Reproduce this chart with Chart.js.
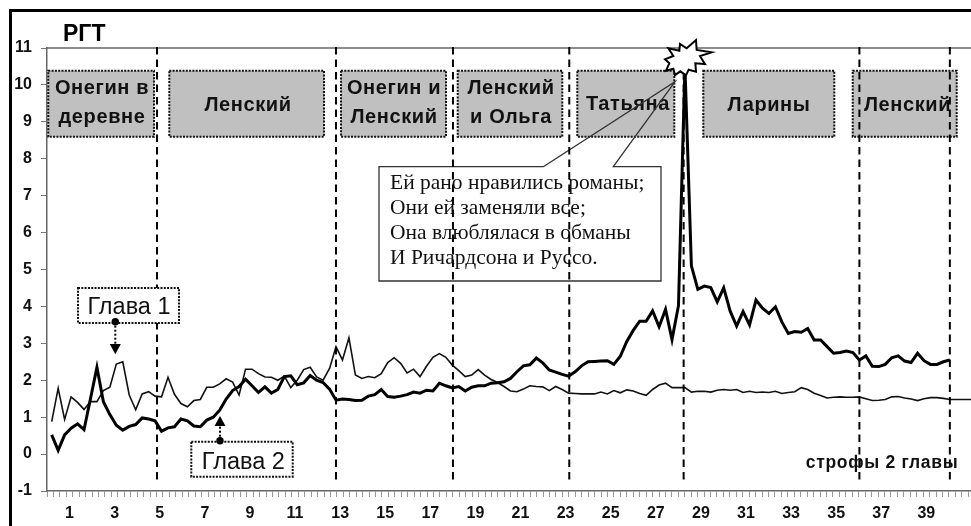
<!DOCTYPE html>
<html lang="ru">
<head>
<meta charset="utf-8">
<title>РГТ</title>
<script src="https://cdn.jsdelivr.net/npm/chart.js@4"></script>
<style>
html,body{margin:0;padding:0;background:#fff}
#wrap{position:relative;width:971px;height:526px;overflow:hidden}
canvas{display:block}
</style>
</head>
<body>
<div id="wrap"><canvas id="c" width="971" height="526"></canvas></div>
<script>
const xTickLabels = ['1','3','5','7','9','11','13','15','17','19','21','23','25','27','29','31','33','35','37','39'];
const yTickRange = [-1, 11];
const chapter1Values = [
0.88,1.78,0.94,1.55,1.40,1.21,1.42,1.42,1.72,1.81,2.44,2.50,1.60,1.20,1.63,1.69,1.57,1.55,2.08,1.62,
1.37,1.28,1.45,1.48,1.81,1.81,1.90,2.04,1.95,1.60,2.30,2.30,2.18,2.09,2.08,2.00,2.11,1.80,2.00,2.29,
2.35,2.09,2.00,2.32,2.91,2.55,3.15,2.14,2.05,2.10,2.07,2.18,2.48,2.61,2.46,2.20,2.30,2.10,2.38,2.62,
2.72,2.62,2.41,2.26,2.10,2.14,2.29,2.14,2.02,1.94,1.83,1.71,1.69,1.76,1.85,1.83,1.82,1.72,1.83,1.75,
1.65,1.64,1.63,1.63,1.63,1.68,1.63,1.72,1.66,1.74,1.71,1.64,1.59,1.75,1.87,1.92,1.80,1.80,1.80,1.68,
1.70,1.70,1.68,1.73,1.75,1.73,1.75,1.67,1.70,1.67,1.68,1.67,1.70,1.64,1.67,1.69,1.80,1.75,1.65,1.59,
1.52,1.54,1.55,1.54,1.54,1.55,1.50,1.45,1.46,1.48,1.55,1.56,1.52,1.49,1.45,1.50,1.53,1.53,1.51,1.48,
1.48,1.48,1.48,1.48];
const chapter2Values = [
0.52,0.10,0.52,0.70,0.82,0.66,1.50,2.35,1.42,1.07,0.78,0.65,0.75,0.80,0.98,0.95,0.90,0.62,0.71,0.74,
0.95,0.90,0.76,0.74,0.92,1.00,1.19,1.49,1.72,1.83,2.03,1.85,1.67,1.82,1.65,1.75,2.10,2.12,1.88,1.93,
2.13,2.00,1.94,1.76,1.46,1.49,1.48,1.45,1.46,1.57,1.61,1.75,1.56,1.54,1.57,1.61,1.68,1.65,1.73,1.71,
1.92,1.85,1.79,1.83,1.71,1.81,1.85,1.85,1.92,1.93,1.96,2.05,2.23,2.39,2.42,2.60,2.47,2.28,2.22,2.16,
2.11,2.23,2.39,2.50,2.51,2.52,2.53,2.43,2.65,3.05,3.35,3.60,3.60,3.88,3.45,3.92,3.10,4.02,10.50,5.10,
4.46,4.55,4.51,4.12,4.50,3.87,3.47,3.86,3.50,4.17,3.95,3.81,3.99,3.58,3.27,3.32,3.30,3.40,3.09,3.09,
2.91,2.73,2.75,2.79,2.75,2.55,2.66,2.38,2.37,2.43,2.61,2.66,2.52,2.48,2.73,2.53,2.43,2.43,2.50,2.55];
const sectionBreaks = [16.3, 44.0, 62.1, 80.1, 97.8, 125.0, 139.0];
const titleText = 'РГТ';
const sectionBoxes = [
  {x0:48.3, x1:154, cx:102, lines:[['Онегин в',88],['деревне',117]]},
  {x0:169.3,x1:324, cx:248, lines:[['Ленский',105]]},
  {x0:341,  x1:446, cx:394, lines:[['Онегин и',88],['Ленский',117]]},
  {x0:457.7,x1:562.3,cx:511, lines:[['Ленский',88],['и Ольга',117]]},
  {x0:577.3,x1:674.3,cx:628, lines:[['Татьяна',104]]},
  {x0:703.3,x1:834.3,cx:769, lines:[['Ларины',105]]},
  {x0:852.7,x1:956.7,cx:907.5, lines:[['Ленский',105]]}
];
const verseLines = ['Ей рано нравились романы;','Они ей заменяли все;','Она влюблялася в обманы','И Ричардсона и Руссо.'];
const starOutline = [[1115,97],[1080,108],[1095,132],[1066,130],[1068,155],[1046,149],[1038,166],[1021,154],[1005,165],[1000,146],[978,152],[988,130],[975,118],[1000,108],[985,85],[1018,92],[1020,72],[1040,85],[1068,60],[1070,90]];

const PLOT = {left:47, right:971, top:48, bottom:491};
const STEP = (PLOT.right-PLOT.left)/143;
const X_MIN = -4.7/STEP;
const X_MAX = X_MIN + 143;
const TICK_SPACING = 0.997;

const sketch = {
  id:'sketch',
  beforeDraw(chart){
    const c = chart.ctx;
    c.save();
    c.fillStyle='#fff'; c.fillRect(0,0,971,526);
    c.fillStyle='#000';
    c.fillRect(9,9,962,3);
    c.fillRect(9,9,3,517);
    c.fillStyle='#000';
    c.font='bold 23px "Liberation Sans"';
    c.textAlign='left'; c.textBaseline='alphabetic';
    c.fillText(titleText,63,41);
    c.strokeStyle='#666'; c.lineWidth=1.5;
    c.beginPath(); c.moveTo(PLOT.left,48); c.lineTo(971,48); c.stroke();
    c.restore();
  },
  beforeDatasetsDraw(chart){
    const c = chart.ctx;
    c.save();
    for(const b of sectionBoxes){
      c.fillStyle='#c0c0c0';
      c.fillRect(b.x0,70.7,b.x1-b.x0,66);
      c.strokeStyle='#111'; c.lineWidth=2; c.setLineDash([2,1.3]);
      c.strokeRect(b.x0,70.7,b.x1-b.x0,66);
      c.setLineDash([]);
      c.fillStyle='#111';
      c.font='bold 20px "Liberation Sans"';
      c.textAlign='center'; c.textBaseline='middle';
      c.letterSpacing='0.6px';
      for(const [t,y] of b.lines) c.fillText(t,b.cx,y);
      c.letterSpacing='0px';
    }
    c.restore();
  },
  afterDatasetsDraw(chart){
    const c = chart.ctx, xs = chart.scales.x;
    c.save();
    // callout
    c.strokeStyle='#333'; c.lineWidth=1.3;
    c.beginPath();
    c.moveTo(543.3,166.7); c.lineTo(379,166.7); c.lineTo(379,281); c.lineTo(661,281);
    c.lineTo(661,166.7); c.lineTo(613.3,166.7); c.lineTo(675,81.7); c.lineTo(543.3,166.7);
    c.stroke();
    c.fillStyle='#111';
    c.font='21.5px "Liberation Serif"';
    c.textAlign='left'; c.textBaseline='middle';
    verseLines.forEach((t,i)=>c.fillText(t,390,183+25*i));
    // section breaks
    c.strokeStyle='#000'; c.lineWidth=2; c.setLineDash([7.5,5]);
    for(const v of sectionBreaks){
      const x = xs.getPixelForValue(v);
      c.beginPath(); c.moveTo(x,47); c.lineTo(x,482); c.stroke();
    }
    c.setLineDash([]);
    // burst
    c.beginPath();
    starOutline.forEach(([zx,zy],i)=>{
      const px = 340+zx/3, py = 20+zy/3;
      i?c.lineTo(px,py):c.moveTo(px,py);
    });
    c.closePath();
    c.fillStyle='#fff'; c.fill();
    c.strokeStyle='#000'; c.lineWidth=2; c.lineJoin='miter'; c.stroke();
    // chapter labels
    const tag=(x0,y0,x1,y1,t,tx,ty)=>{
      c.fillStyle='#fff'; c.fillRect(x0,y0,x1-x0,y1-y0);
      c.strokeStyle='#111'; c.lineWidth=2; c.setLineDash([2,1.3]);
      c.strokeRect(x0,y0,x1-x0,y1-y0); c.setLineDash([]);
      c.fillStyle='#111'; c.font='23.5px "Liberation Sans"';
      c.textAlign='center'; c.textBaseline='middle';
      c.fillText(t,tx,ty);
    };
    tag(78,288,179,323,'Глава 1',129,308);
    tag(191.3,441.7,292.7,476.7,'Глава 2',243.3,463);
    const pointer=(x,y0,y1,yb)=>{
      c.strokeStyle='#000'; c.lineWidth=2; c.setLineDash([2,2]);
      c.beginPath(); c.moveTo(x,y0); c.lineTo(x,yb); c.stroke(); c.setLineDash([]);
      c.fillStyle='#000';
      c.beginPath(); c.arc(x,y0,3.7,0,Math.PI*2); c.fill();
      c.beginPath(); c.moveTo(x,y1); c.lineTo(x-5.5,yb); c.lineTo(x+5.5,yb); c.closePath(); c.fill();
    };
    pointer(115.3,321.7,354.3,344);
    pointer(220,440.7,416,426);
    // axis caption
    c.fillStyle='#111';
    c.font='bold 17.5px "Liberation Sans"';
    c.textAlign='left'; c.textBaseline='middle';
    c.letterSpacing='0.7px';
    c.fillText('строфы 2 главы',805.7,463);
    c.letterSpacing='0px';
    c.restore();
  }
};

new Chart(document.getElementById('c'),{
  type:'line',
  data:{datasets:[
    {label:'Глава 1',data:chapter1Values.map((y,x)=>({x,y})),borderColor:'#111',borderWidth:1.6,pointRadius:0,tension:0,order:2},
    {label:'Глава 2',data:chapter2Values.map((y,x)=>({x,y})),borderColor:'#000',borderWidth:3,pointRadius:0,tension:0,order:1,borderJoinStyle:'miter'}
  ]},
  options:{
    responsive:false,animation:false,
    layout:{padding:{top:PLOT.top,left:0,right:0,bottom:0}},
    plugins:{legend:{display:false},title:{display:false},tooltip:{enabled:false}},
    scales:{
      x:{type:'linear',min:X_MIN,max:X_MAX,
        afterBuildTicks(s){s.ticks=Array.from({length:144},(_,k)=>({value:X_MIN+k*TICK_SPACING}));},
        afterFit(s){s.height=526-PLOT.bottom;s.paddingLeft=0;s.paddingRight=0;},
        border:{color:'#666',width:1.5},
        grid:{drawOnChartArea:false,tickLength:6,tickColor:'#999',tickWidth:1},
        ticks:{autoSkip:false,maxRotation:0,minRotation:0,padding:7,labelOffset:STEP/2,color:'#111',
          font:{family:'"Liberation Sans"',size:16,weight:'bold'},
          callback(v,i){return (i-3)%7===0&&i>=3?(xTickLabels[(i-3)/7]??''):'';}}
      },
      y:{min:yTickRange[0],max:yTickRange[1],
        afterFit(s){s.width=PLOT.left;},
        border:{color:'#666',width:1.5},
        grid:{drawOnChartArea:false,tickLength:6,tickColor:'#777',tickWidth:1},
        ticks:{stepSize:1,padding:9,color:'#111',font:{family:'"Liberation Sans"',size:16,weight:'bold'}}
      }
    }
  },
  plugins:[sketch]
});
</script>
</body>
</html>
